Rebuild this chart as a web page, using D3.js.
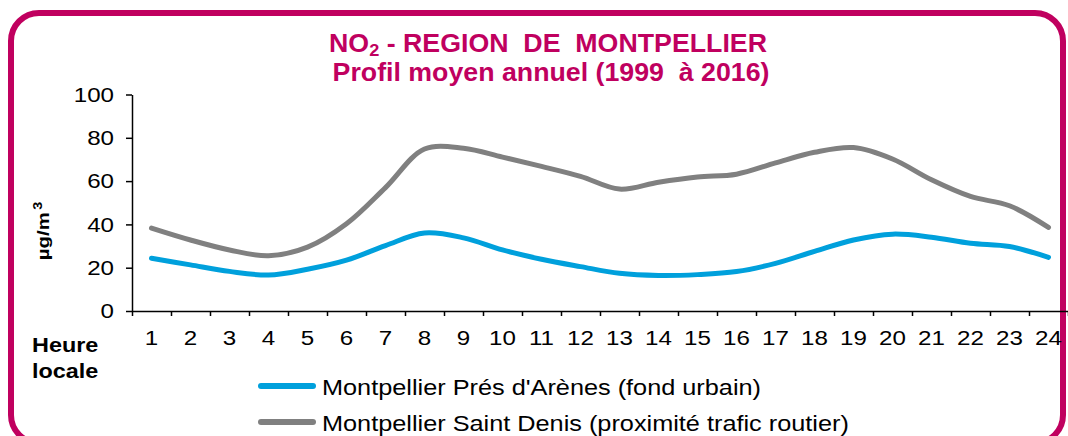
<!DOCTYPE html>
<html lang="fr">
  <head>
    <meta charset="UTF-8" />
    <title>NO2 - Région de Montpellier</title>
    <script src="https://d3js.org/d3.v7.min.js"></script>
    <style>
      body { margin: 0; background: #fff; }
      svg { display: block; font-family: "Liberation Sans", Arial, sans-serif; }
      .axis path, .axis line { stroke: #000; stroke-width: 1.5px; }
      .axis text { font-size: 21px; fill: #000; }
      .pre { white-space: pre; }
    </style>
  </head>
  <body>
    <svg id="chart"></svg>
    <script>
      const WIDTH = 1068;
      const HEIGHT = 436;

      // data
      const hours = d3.range(1, 25);
      const presArenes = [24.4, 21.3, 18.3, 16.6, 19.3, 23.5, 30.2, 36, 33.8, 28.2, 23.9, 20.5,
                          17.4, 16.4, 16.8, 18.2, 22, 27.5, 32.8, 35.5, 34.1, 31.3, 29.8, 24.8];
      const saintDenis = [38.3, 32.8, 28.2, 25.5, 29.5, 40.3, 57, 74.8, 75.2, 71.1, 66.8, 62.2,
                          56.3, 59.5, 61.9, 63.2, 68.4, 73.3, 75.5, 70.2, 60.6, 52.9, 48.6, 38.6];
      const seriesNames = ["Montpellier Prés d'Arènes (fond urbain)",
                           "Montpellier Saint Denis (proximité trafic routier)"];
      const seriesColors = ["#00a0dc", "#808080"];
      const yTicks = [0, 20, 40, 60, 80, 100];

      const MAGENTA = "#c0005f";
      const SX = 1.15; // the original text is drawn a bit wider than Arial

      const svg = d3.select("#chart").attr("width", WIDTH).attr("height", HEIGHT);

      // rounded frame
      svg.append("rect")
        .attr("x", 11).attr("y", 13)
        .attr("width", 1052).attr("height", 430)
        .attr("rx", 28)
        .attr("fill", "none")
        .attr("stroke", MAGENTA)
        .attr("stroke-width", 6);

      // wide text helper: places text at (x,y) stretched horizontally
      function wideText(x, y, sx, anchor) {
        return svg.append("text")
          .attr("transform", `translate(${x},${y}) scale(${sx},1)`)
          .attr("text-anchor", anchor || "start");
      }

      // title
      const title = wideText(548, 52, 1.07, "middle")
        .attr("class", "pre")
        .attr("fill", MAGENTA)
        .style("font-weight", "bold")
        .style("font-size", "25px");
      title.append("tspan").text("NO");
      title.append("tspan").text("2").style("font-size", "17px").attr("dy", 4);
      title.append("tspan").text(" - REGION  DE  MONTPELLIER").attr("dy", -4);

      wideText(551, 81, 1.07, "middle")
        .attr("class", "pre")
        .attr("fill", MAGENTA)
        .style("font-weight", "bold")
        .style("font-size", "25px")
        .text("Profil moyen annuel (1999  à 2016)");

      // scales
      const x0 = 132, x1 = 1068;
      const x = d3.scaleBand().domain(hours).range([x0, x1]);
      const xEdges = d3.scaleLinear().domain([0, 24]).range([x0, x1]);
      const y = d3.scaleLinear().domain([0, 100]).range([311, 94.5]);

      // y axis
      const yAx = svg.append("g")
        .attr("class", "axis")
        .attr("transform", `translate(${x0},0)`)
        .call(d3.axisLeft(y).tickValues(yTicks).tickSize(6).tickPadding(12).tickSizeOuter(0));
      yAx.selectAll("text")
        .attr("x", 0)
        .attr("transform", `translate(-18,0) scale(${SX},1)`);

      // x axis: ticks between categories, labels at centers
      svg.append("g")
        .attr("class", "axis")
        .attr("transform", `translate(0,${y(0)})`)
        .call(d3.axisBottom(xEdges).ticks(24).tickSize(5).tickFormat("").tickSizeOuter(0));

      const xLab = svg.append("g")
        .attr("class", "axis")
        .attr("transform", `translate(0,${y(0)})`)
        .call(d3.axisBottom(x).tickSize(0).tickPadding(19));
      xLab.select(".domain").remove();
      xLab.selectAll("text").attr("transform", `scale(${SX},1)`);

      // lines
      const line = d3.line()
        .x((d, i) => x(hours[i]) + x.bandwidth() / 2)
        .y((d) => y(d))
        .curve(d3.curveCatmullRom.alpha(0.5));

      [presArenes, saintDenis].forEach((vals, i) => {
        svg.append("path")
          .attr("d", line(vals))
          .attr("fill", "none")
          .attr("stroke", seriesColors[i])
          .attr("stroke-width", 5)
          .attr("stroke-linecap", "round")
          .attr("stroke-linejoin", "round");
      });

      // y axis title
      const yt = svg.append("text")
        .attr("transform", "translate(49,231) rotate(-90) scale(1.2,1)")
        .attr("text-anchor", "middle")
        .style("font-weight", "bold")
        .style("font-size", "17px");
      yt.append("tspan").text("µg/m");
      yt.append("tspan").text("3").style("font-size", "12px").attr("dy", -7).attr("dx", 2);

      // x axis title
      wideText(32, 352, 1.2).style("font-weight", "bold").style("font-size", "19.5px").text("Heure");
      wideText(32, 378, 1.2).style("font-weight", "bold").style("font-size", "19.5px").text("locale");

      // legend
      seriesNames.forEach((name, i) => {
        const ly = 386 + i * 36;
        svg.append("line")
          .attr("x1", 261).attr("x2", 313)
          .attr("y1", ly).attr("y2", ly)
          .attr("stroke", seriesColors[i])
          .attr("stroke-width", 6)
          .attr("stroke-linecap", "round");
        wideText(322, ly + 8.5, SX).style("font-size", "22px").text(name);
      });
    </script>
  </body>
</html>
